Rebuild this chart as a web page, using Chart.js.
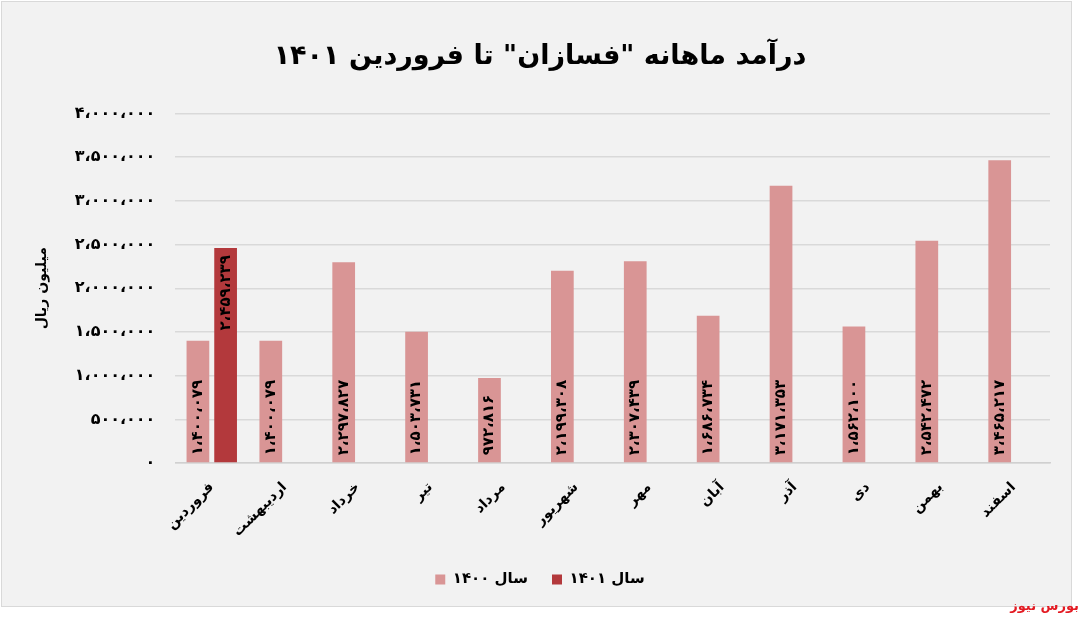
<!DOCTYPE html>
<html>
<head>
<meta charset="utf-8">
<script src="https://cdn.jsdelivr.net/npm/chart.js@4.4.1/dist/chart.umd.min.js"></script>
<style>
  html, body { margin: 0; padding: 0; background: #ffffff; }
  #wrap { width: 1085px; height: 619px; position: relative; }
</style>
</head>
<body>
<div id="wrap"><canvas id="revenueChart" width="1085" height="619"></canvas></div>
<script>
// data
const months = ['فروردین', 'اردیبهشت', 'خرداد', 'تیر', 'مرداد', 'شهریور', 'مهر', 'آبان', 'آذر', 'دی', 'بهمن', 'اسفند'];
const sales1400 = [1400079, 1400079, 2297827, 1503731, 972816, 2199308, 2307439, 1686734, 3171353, 1562100, 2542472, 3465217];
const sales1401 = [2459239, null, null, null, null, null, null, null, null, null, null, null];
const seriesNames = ['سال ۱۴۰۰', 'سال ۱۴۰۱'];
const yTicks = [0, 500000, 1000000, 1500000, 2000000, 2500000, 3000000, 3500000, 4000000];

const FONT = "'DejaVu Sans', sans-serif";

function toFa(n) {
    return n.toLocaleString('en-US').replace(/,/g, '،').replace(/\d/g, d => '۰۱۲۳۴۵۶۷۸۹'[d]);
}

// grey panel with thin border, plus the small credit at bottom right
const panelPlugin = {
    id: 'panel',
    beforeDraw(chart) {
        const ctx = chart.ctx;
        ctx.save();
        ctx.fillStyle = '#f2f2f2';
        ctx.fillRect(1, 1, 1071, 606);
        ctx.strokeStyle = '#d9d9d9';
        ctx.lineWidth = 1;
        ctx.strokeRect(1.5, 1.5, 1070, 605);
        ctx.restore();
    },
    afterDraw(chart) {
        const ctx = chart.ctx;
        ctx.save();
        ctx.direction = 'rtl';
        ctx.font = 'bold 13px ' + FONT;
        ctx.fillStyle = '#e31b23';
        ctx.textAlign = 'right';
        ctx.textBaseline = 'middle';
        ctx.fillText('بورس نیوز', 1079, 607);
        ctx.restore();
    }
};

// vertical value labels inside the bars
const barLabelPlugin = {
    id: 'barLabels',
    afterDatasetsDraw(chart) {
        const ctx = chart.ctx;
        ctx.save();
        ctx.font = 'bold 15px ' + FONT;
        ctx.fillStyle = '#000000';
        ctx.textBaseline = 'middle';
        chart.data.datasets.forEach((ds, i) => {
            const meta = chart.getDatasetMeta(i);
            meta.data.forEach((bar, j) => {
                const v = ds.data[j];
                if (v === null || v === undefined) return;
                ctx.save();
                if (i === 1) {
                    ctx.translate(bar.x, bar.y + 7);
                    ctx.rotate(-Math.PI / 2);
                    ctx.textAlign = 'right';
                } else {
                    ctx.translate(bar.x, bar.base - 7);
                    ctx.rotate(-Math.PI / 2);
                    ctx.textAlign = 'left';
                }
                ctx.fillText(toFa(v), 0, 0);
                ctx.restore();
            });
        });
        ctx.restore();
    }
};

const ctx = document.getElementById('revenueChart').getContext('2d');
new Chart(ctx, {
    type: 'bar',
    data: {
        labels: months,
        datasets: [{
            label: seriesNames[0],
            data: sales1400,
            backgroundColor: '#d99595',
            categoryPercentage: 0.76,
            barPercentage: 0.82
        }, {
            label: seriesNames[1],
            data: sales1401,
            backgroundColor: '#b3393c',
            categoryPercentage: 0.76,
            barPercentage: 0.82
        }]
    },
    options: {
        responsive: false,
        animation: false,
        layout: {
            padding: { left: 30, right: 35, top: 0, bottom: 22 }
        },
        plugins: {
            title: {
                display: true,
                text: 'درآمد ماهانه "فسازان" تا فروردین ۱۴۰۱',
                color: '#000000',
                font: { family: FONT, size: 27, weight: 'bold' },
                padding: { top: 41, bottom: 40 }
            },
            legend: {
                position: 'bottom',
                labels: {
                    color: '#000000',
                    font: { family: FONT, size: 15, weight: 'bold' },
                    boxWidth: 10,
                    boxHeight: 10,
                    padding: 24
                }
            },
            tooltip: { enabled: false }
        },
        scales: {
            x: {
                grid: { display: false },
                border: { display: true, color: '#d0d0d0', width: 1.5 },
                ticks: {
                    color: '#000000',
                    font: { family: FONT, size: 14, weight: 'bold' },
                    minRotation: 45,
                    maxRotation: 45,
                    padding: 8
                }
            },
            y: {
                min: 0,
                max: 4000000,
                afterBuildTicks: axis => { axis.ticks = yTicks.map(v => ({ value: v })); },
                grid: { color: '#d9d9d9', lineWidth: 1.5, drawTicks: false },
                border: { display: false },
                ticks: {
                    color: '#000000',
                    font: { family: FONT, size: 16, weight: 'bold' },
                    padding: 20,
                    callback: v => toFa(v)
                },
                title: {
                    display: true,
                    text: 'میلیون ریال',
                    color: '#000000',
                    font: { family: FONT, size: 14, weight: 'bold' },
                    padding: { bottom: 4 }
                }
            }
        }
    },
    plugins: [panelPlugin, barLabelPlugin]
});
</script>
</body>
</html>
